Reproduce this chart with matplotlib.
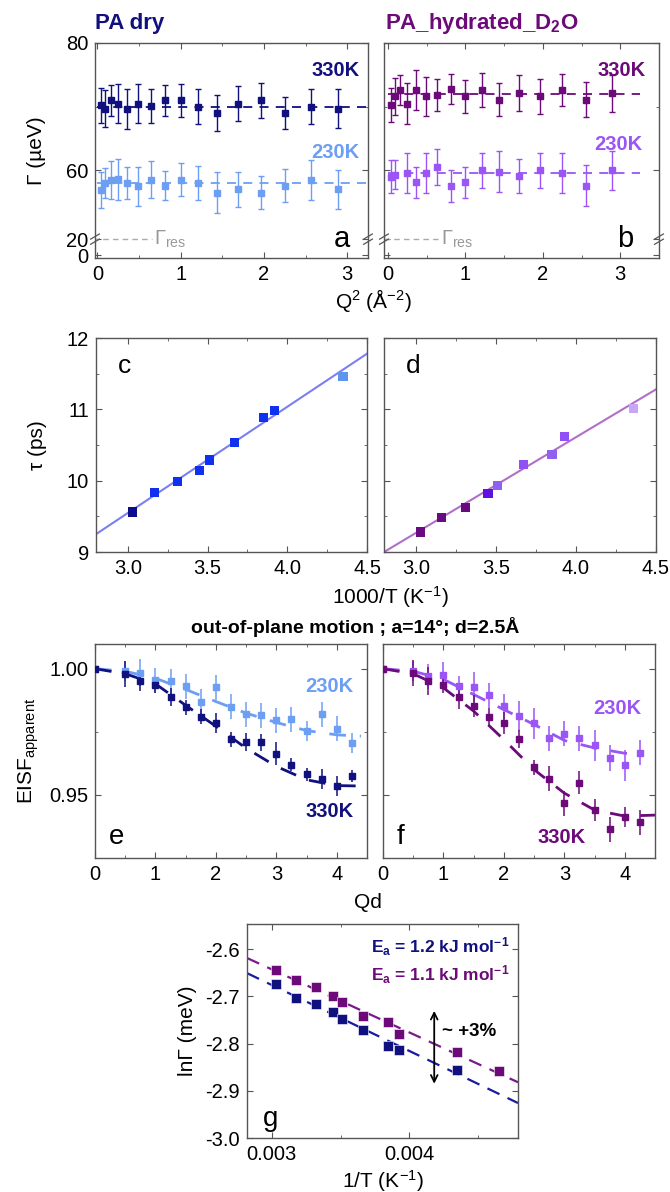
import numpy as np
import matplotlib
matplotlib.use("Agg")
import matplotlib.pyplot as plt
from matplotlib.ticker import FormatStrFormatter, MultipleLocator, FixedLocator

plt.rcParams['font.family'] = ['Liberation Sans', 'DejaVu Sans']
plt.rcParams['mathtext.fontset'] = 'custom'
plt.rcParams['mathtext.rm'] = 'Liberation Sans'
plt.rcParams['mathtext.it'] = 'Liberation Sans:italic'
plt.rcParams['mathtext.bf'] = 'Liberation Sans:bold'
plt.rcParams['axes.unicode_minus'] = False

# ---- colours
NAVY = '#10107f'
LBLUE = '#6c9ff3'
PURP = '#6b0a78'
LPURP = '#9b55f5'
GRAY = '#555555'

# ---- (a)/(b): Gamma vs Q^2
Q2 = [0.04, 0.09, 0.16, 0.25, 0.36, 0.49, 0.64, 0.81, 1.0, 1.21, 1.44, 1.69, 1.96, 2.25, 2.56, 2.89]
a330 = [70.2, 69.7, 71.0, 70.5, 69.6, 70.5, 70.1, 71.0, 71.0, 70.0, 69.0, 70.5, 71.0, 69.0, 70.0, 69.7]
a330_err = [2.7, 2.9, 2.4, 3.1, 3.1, 3.0, 2.6, 2.4, 2.6, 2.7, 2.8, 2.8, 2.7, 2.5, 2.7, 3.0]
a230 = [56.9, 58.0, 58.5, 58.6, 58.0, 57.5, 58.5, 57.6, 58.5, 58.0, 56.5, 57.0, 56.5, 57.6, 58.5, 57.0]
a230_err = [2.8, 2.3, 3.0, 3.2, 2.5, 3.1, 2.9, 2.3, 2.6, 2.7, 3.2, 2.8, 2.6, 2.6, 3.2, 3.0]
b330 = [70.3, 71.6, 72.6, 70.5, 72.6, 71.6, 71.8, 72.8, 71.6, 72.6, 71.1, 72.1, 71.6, 72.6, 71.1, 72.1]
b330_err = [2.7, 2.9, 2.3, 3.2, 3.1, 3.0, 2.5, 2.3, 2.6, 2.7, 2.6, 2.8, 2.8, 2.5, 2.7, 2.9]
Q2_b230 = [0.04, 0.09, 0.25, 0.36, 0.49, 0.64, 0.81, 1.0, 1.21, 1.44, 1.69, 1.96, 2.25, 2.56, 2.89]
b230 = [59.0, 59.3, 59.6, 58.1, 59.6, 60.5, 57.6, 58.1, 60.0, 59.8, 59.1, 60.0, 59.6, 57.6, 60.0]
b230_err = [2.6, 2.3, 3.1, 2.5, 3.1, 2.8, 2.5, 2.5, 2.8, 3.2, 2.7, 2.7, 3.1, 3.2, 3.1]
fitQ2 = [0.0, 3.25]
a330_lvl, a230_lvl = 70.0, 58.0
b330_lvl, b230_lvl = 72.05, 59.6
res_Q2 = [-0.05, 0.65]
gamma_res = 20.0

# ---- (c)/(d): tau vs 1000/T
kT_dry = [3.03, 3.165, 3.31, 3.45, 3.51, 3.67, 3.85, 3.92, 4.35]
tau_dry = [9.56, 9.83, 9.99, 10.14, 10.29, 10.54, 10.89, 10.98, 11.46]
kT_hyd = [3.027, 3.16, 3.31, 3.45, 3.51, 3.67, 3.85, 3.93, 4.36]
tau_hyd = [9.28, 9.48, 9.62, 9.82, 9.93, 10.23, 10.37, 10.62, 11.01]
fit_kT = [2.8, 4.5]
fit_tau_dry = [9.25, 11.78]
fit_tau_hyd = [9.0, 11.28]
col_c = ['#0c0c8c', '#1030f0', '#1030f0', '#1030f0', '#1030f0', '#1030f0', '#1030f0', '#1030f0', '#5d95ee']
col_d = ['#6a0a80', '#6a0a80', '#6a0a80', '#6010e0', '#9060f0', '#9050f5', '#9060f0', '#9050f5', '#c8a6f5']

# ---- (e)/(f): EISF vs Qd
Qd = [0, 0.5, 0.75, 1.0, 1.25, 1.5, 1.75, 2.0, 2.25, 2.5, 2.75, 3.0, 3.25, 3.5, 3.75, 4.0, 4.25]
e230 = [1.0, 0.999, 0.9985, 0.9954, 0.995, 0.993, 0.987, 0.9926, 0.985, 0.982, 0.9815, 0.9795, 0.980, 0.9754, 0.982, 0.9762, 0.9705]
e230_err = [0, 0.004, 0.0055, 0.005, 0.005, 0.005, 0.005, 0.005, 0.005, 0.005, 0.005, 0.005, 0.005, 0.004, 0.005, 0.005, 0.004]
e330 = [1.0, 0.9979, 0.9952, 0.9935, 0.9888, 0.9848, 0.981, 0.9786, 0.972, 0.9709, 0.9708, 0.9664, 0.962, 0.9582, 0.9562, 0.9536, 0.9575]
e330_err = [0, 0.005, 0.004, 0.003, 0.0035, 0.003, 0.003, 0.004, 0.003, 0.0035, 0.0035, 0.0045, 0.0025, 0.0025, 0.004, 0.004, 0.0025]
f230 = [1.0, 0.999, 0.997, 0.9977, 0.9931, 0.9928, 0.9894, 0.9851, 0.9812, 0.9783, 0.9725, 0.9743, 0.9725, 0.9696, 0.9646, 0.9617, 0.9668]
f230_err = [0, 0.004, 0.005, 0.005, 0.004, 0.006, 0.005, 0.005, 0.006, 0.006, 0.005, 0.005, 0.005, 0.006, 0.005, 0.006, 0.005]
f330 = [1.0, 0.9984, 0.9951, 0.9935, 0.9887, 0.9851, 0.9809, 0.9785, 0.9721, 0.961, 0.9564, 0.9467, 0.9549, 0.944, 0.9363, 0.9411, 0.9391]
f330_err = [0, 0.0052, 0.0056, 0.0033, 0.0046, 0.0043, 0.0036, 0.0043, 0.0036, 0.003, 0.005, 0.005, 0.0046, 0.0043, 0.0048, 0.004, 0.005]
fitQd = [0, 0.5, 1.0, 1.5, 2.0, 2.5, 3.0, 3.5, 4.0, 4.45]
e230_fit = [1.0, 0.9990, 0.9962, 0.9918, 0.9870, 0.9824, 0.9787, 0.9755, 0.9738, 0.9733]
e330_fit = [1.0, 0.998, 0.994, 0.9855, 0.9772, 0.9685, 0.9613, 0.956, 0.9537, 0.9535]
fitQd_f230 = [0, 0.5, 1.0, 1.5, 2.0, 2.5, 3.0, 3.5, 4.0, 4.25]
f230_fit = [1.0, 0.999, 0.9958, 0.9898, 0.9838, 0.9779, 0.9716, 0.9686, 0.9665, 0.9663]
fitQd_f330 = [0, 0.5, 1.0, 1.5, 2.0, 2.5, 3.0, 3.5, 4.0, 4.5]
f330_fit = [1.0, 0.998, 0.9924, 0.9832, 0.9719, 0.96, 0.9507, 0.944, 0.9416, 0.942]

# ---- (g): ln Gamma vs 1/T
invT_dry = [0.00303, 0.003175, 0.003322, 0.003448, 0.003509, 0.003663, 0.003846, 0.003922, 0.004348]
lnG_dry = [-2.673, -2.704, -2.716, -2.733, -2.749, -2.772, -2.805, -2.814, -2.857]
invT_hyd = [0.00303, 0.003175, 0.003322, 0.003448, 0.003509, 0.003663, 0.003846, 0.003922, 0.004348, 0.004651]
lnG_hyd = [-2.645, -2.665, -2.680, -2.700, -2.713, -2.741, -2.755, -2.780, -2.817, -2.859]
fit_invT = [0.00282, 0.00479]
fit_lnG_dry = [-2.651, -2.926]
fit_lnG_hyd = [-2.619, -2.882]

W, H = 670, 1192
fig = plt.figure(figsize=(W / 100, H / 100), dpi=100)


def rect(l, t, r, b):
    return [l / W, 1 - b / H, (r - l) / W, (b - t) / H]


def style(ax):
    for s in ax.spines.values():
        s.set_color(GRAY)
        s.set_linewidth(1.0)
    ax.tick_params(which='both', direction='in', top=True, right=True, color=GRAY, labelsize=14.5, pad=5)
    ax.tick_params(which='major', length=4)
    ax.tick_params(which='minor', length=2.5)


def ftext(x, y, s, **kw):
    fig.text(x / W, 1 - y / H, s, **kw)


# broken y-scale for panels a/b
def fwd(y):
    y = np.asarray(y, dtype=float)
    return np.where(y <= 20, y / 8, np.where(y <= 49.5, 2.5 + (y - 20) * 0.01, 2.795 + (y - 49.5)))


def inv(f):
    f = np.asarray(f, dtype=float)
    return np.where(f <= 2.5, f * 8, np.where(f <= 2.795, 20 + (f - 2.5) / 0.01, 49.5 + (f - 2.795)))


YLO, YHI = -3.7, 80
yb = float((fwd(20) - fwd(YLO)) / (fwd(YHI) - fwd(YLO)))


def brk(ax, x):
    for dy in (-0.012, 0.012):
        ax.plot([x - 0.016, x + 0.016], [yb + dy - 0.012, yb + dy + 0.012], transform=ax.transAxes,
                color=GRAY, lw=0.9, clip_on=False)


def gamma_panel(ax, q_hi, y_hi, e_hi, lvl_hi, c_hi, q_lo, y_lo, e_lo, lvl_lo, c_lo, letter, xlim, lx):
    ax.set_yscale('function', functions=(fwd, inv))
    ax.errorbar(q_hi, y_hi, yerr=e_hi, fmt='s', ms=3.8, color=c_hi, ecolor=c_hi, elinewidth=1,
                capsize=2.5, capthick=1, zorder=3)
    ax.errorbar(q_lo, y_lo, yerr=e_lo, fmt='s', ms=3.8, color=c_lo, ecolor=c_lo, elinewidth=1,
                capsize=2.5, capthick=1, zorder=3)
    ax.plot(fitQ2, [lvl_hi, lvl_hi], ls=(0, (5, 4)), color=c_hi, lw=1.3)
    ax.plot(fitQ2, [lvl_lo, lvl_lo], ls=(0, (5, 4)), color=c_lo, lw=1.3)
    ax.plot(res_Q2, [gamma_res, gamma_res], ls=(0, (4, 3)), color='#aaaaaa', lw=1)
    ax.text(0.68, gamma_res, r'Γ$_{\mathrm{res}}$', color='#999999', fontsize=14.5, va='center')
    ax.set_xlim(*xlim)
    ax.set_ylim(YLO, YHI)
    ax.yaxis.set_major_locator(FixedLocator([0, 20, 60, 80]))
    ax.yaxis.set_minor_locator(FixedLocator([70]))
    ax.xaxis.set_major_locator(MultipleLocator(1))
    ax.xaxis.set_minor_locator(MultipleLocator(0.5))
    ax.xaxis.set_major_formatter(FormatStrFormatter('%d'))
    ax.yaxis.set_major_formatter(FormatStrFormatter('%d'))
    style(ax)
    ax.text(lx, 0.09, letter, transform=ax.transAxes, fontsize=21, ha='right', va='center')
    brk(ax, 0)
    brk(ax, 1)


axa = fig.add_axes(rect(95, 43, 368, 258))
gamma_panel(axa, Q2, a330, a330_err, a330_lvl, NAVY, Q2, a230, a230_err, a230_lvl, LBLUE, 'a', (-0.03, 3.25), 0.935)
axa.set_ylabel('Γ (µeV)', fontsize=15, labelpad=14)
axa.text(0.97, 0.87, '330K', transform=axa.transAxes, color=NAVY, fontsize=14.5, weight='bold', ha='right', va='center')
axa.text(0.97, 0.49, '230K', transform=axa.transAxes, color=LBLUE, fontsize=14.5, weight='bold', ha='right', va='center')

axb = fig.add_axes(rect(384, 43, 659, 258))
gamma_panel(axb, Q2, b330, b330_err, b330_lvl, PURP, Q2_b230, b230, b230_err, b230_lvl, LPURP, 'b', (-0.05, 3.5), 0.905)
axb.tick_params(labelleft=False)
axb.text(0.95, 0.87, '330K', transform=axb.transAxes, color=PURP, fontsize=14.5, weight='bold', ha='right', va='center')
axb.text(0.94, 0.53, '230K', transform=axb.transAxes, color=LPURP, fontsize=14.5, weight='bold', ha='right', va='center')

ftext(95, 23, 'PA dry', color=NAVY, fontsize=16, weight='bold', va='center')
ftext(385, 23, r'PA_hydrated_D$_\mathbf{2}$O', color=PURP, fontsize=16, weight='bold', va='center')
ftext(373, 300, r'Q$^2$ (Å$^{-2}$)', fontsize=15, ha='center', va='center')


# ---- c, d
def tau_panel(ax, x, y, cols, fy, lc, letter):
    ax.plot(fit_kT, fy, color=lc, lw=1.5, zorder=2)
    ax.scatter(x, y, marker='s', s=44, c=cols, edgecolors='none', zorder=3)
    ax.set_xlim(2.8, 4.5)
    ax.set_ylim(9, 12)
    ax.xaxis.set_major_locator(MultipleLocator(0.5))
    ax.xaxis.set_minor_locator(MultipleLocator(0.25))
    ax.yaxis.set_major_locator(MultipleLocator(1))
    ax.yaxis.set_minor_locator(MultipleLocator(0.5))
    ax.xaxis.set_major_formatter(FormatStrFormatter('%.1f'))
    ax.yaxis.set_major_formatter(FormatStrFormatter('%d'))
    style(ax)
    ax.text(0.08, 0.87, letter, transform=ax.transAxes, fontsize=19, va='center')


axc = fig.add_axes(rect(96, 338, 367, 552))
tau_panel(axc, kT_dry, tau_dry, col_c, fit_tau_dry, '#7b80f0', 'c')
axc.set_ylabel('τ (ps)', fontsize=15, labelpad=14)
axd = fig.add_axes(rect(384, 338, 656, 552))
tau_panel(axd, kT_hyd, tau_hyd, col_d, fit_tau_hyd, '#b070c8', 'd')
axd.tick_params(labelleft=False)
ftext(390, 597, r'1000/T (K$^{-1}$)', fontsize=15, ha='center', va='center')
ftext(355, 627, 'out-of-plane motion ; a=14°; d=2.5Å', fontsize=14, weight='bold', ha='center', va='center')


# ---- e, f
def eisf_panel(ax, y_lo, e_lo, xf_lo, f_lo, c_lo, y_hi, e_hi, xf_hi, f_hi, c_hi, letter):
    ax.errorbar(Qd, y_lo, yerr=e_lo, fmt='s', ms=4.2, color=c_lo, ecolor=c_lo, elinewidth=1.1, zorder=3)
    ax.errorbar(Qd, y_hi, yerr=e_hi, fmt='s', ms=4.2, color=c_hi, ecolor=c_hi, elinewidth=1.1, zorder=3)
    ax.plot(xf_lo, f_lo, ls=(0, (6, 5)), color=c_lo, lw=2, zorder=2)
    ax.plot(xf_hi, f_hi, ls=(0, (6, 5)), color=c_hi, lw=2, zorder=2)
    ax.set_xlim(0, 4.5)
    ax.set_ylim(0.925, 1.0098)
    ax.xaxis.set_major_locator(MultipleLocator(1))
    ax.xaxis.set_minor_locator(MultipleLocator(0.5))
    ax.yaxis.set_major_locator(MultipleLocator(0.05))
    ax.yaxis.set_minor_locator(MultipleLocator(0.025))
    ax.xaxis.set_major_formatter(FormatStrFormatter('%d'))
    ax.yaxis.set_major_formatter(FormatStrFormatter('%.2f'))
    style(ax)
    ax.text(0.05, 0.1, letter, transform=ax.transAxes, fontsize=20, va='center')


axe = fig.add_axes(rect(95, 644, 367, 858))
eisf_panel(axe, e230, e230_err, fitQd[:-1] + [4.4], e230_fit, LBLUE, e330, e330_err, fitQd, e330_fit, NAVY, 'e')
axe.set_ylabel(r'EISF$_{\mathrm{apparent}}$', fontsize=15, labelpad=6)
axe.text(0.95, 0.80, '230K', transform=axe.transAxes, color=LBLUE, fontsize=14.5, weight='bold', ha='right', va='center')
axe.text(0.95, 0.215, '330K', transform=axe.transAxes, color=NAVY, fontsize=14.5, weight='bold', ha='right', va='center')

axf = fig.add_axes(rect(383, 644, 655, 858))
eisf_panel(axf, f230, f230_err, fitQd_f230, f230_fit, LPURP, f330, f330_err, fitQd_f330, f330_fit, PURP, 'f')
axf.tick_params(labelleft=False)
axf.text(0.95, 0.70, '230K', transform=axf.transAxes, color=LPURP, fontsize=14.5, weight='bold', ha='right', va='center')
axf.text(0.655, 0.095, '330K', transform=axf.transAxes, color=PURP, fontsize=14.5, weight='bold', ha='center', va='center')
ftext(368, 903, 'Qd', fontsize=15, ha='center', va='center')

# ---- g
axg = fig.add_axes(rect(247, 924, 518, 1138))
axg.plot(fit_invT, fit_lnG_dry, ls=(0, (6, 4)), color='#1a1aa0', lw=1.6, zorder=2)
axg.plot(fit_invT, fit_lnG_hyd, ls=(0, (6, 4)), color='#7a1a8a', lw=1.6, zorder=2)
axg.plot(invT_dry, lnG_dry, 's', ms=7.3, color=NAVY, mec='white', mew=0.4, zorder=3)
axg.plot(invT_hyd, lnG_hyd, 's', ms=7.3, color=PURP, mec='white', mew=0.4, zorder=3)
axg.set_xlim(0.00282, 0.00479)
axg.set_ylim(-3.0, -2.547)
axg.xaxis.set_major_locator(FixedLocator([0.003, 0.004]))
axg.xaxis.set_minor_locator(FixedLocator([0.0035, 0.0045]))
axg.xaxis.set_major_formatter(FormatStrFormatter('%.3f'))
axg.yaxis.set_major_locator(MultipleLocator(0.1))
axg.yaxis.set_major_formatter(FormatStrFormatter('%.1f'))
style(axg)
axg.annotate('', xy=(0.004181, -2.725), xytext=(0.004181, -2.891),
             arrowprops=dict(arrowstyle='<->', color='black', lw=1.3, mutation_scale=12))
axg.text(0.004235, -2.774, '~ +3%', fontsize=13.5, weight='bold', va='center')
axg.text(0.97, 0.895, r'$\mathbf{E_a}$ = 1.2 kJ mol$^{\mathbf{-1}}$', transform=axg.transAxes,
         color=NAVY, fontsize=12.5, weight='bold', ha='right', va='center')
axg.text(0.97, 0.765, r'$\mathbf{E_a}$ = 1.1 kJ mol$^{\mathbf{-1}}$', transform=axg.transAxes,
         color=PURP, fontsize=12.5, weight='bold', ha='right', va='center')
axg.text(0.06, 0.09, 'g', transform=axg.transAxes, fontsize=20, va='center')
axg.set_ylabel('lnΓ (meV)', fontsize=15, labelpad=6)
axg.set_xlabel(r'1/T (K$^{-1}$)', fontsize=15, labelpad=3)

fig.savefig('out.png', dpi=100)
